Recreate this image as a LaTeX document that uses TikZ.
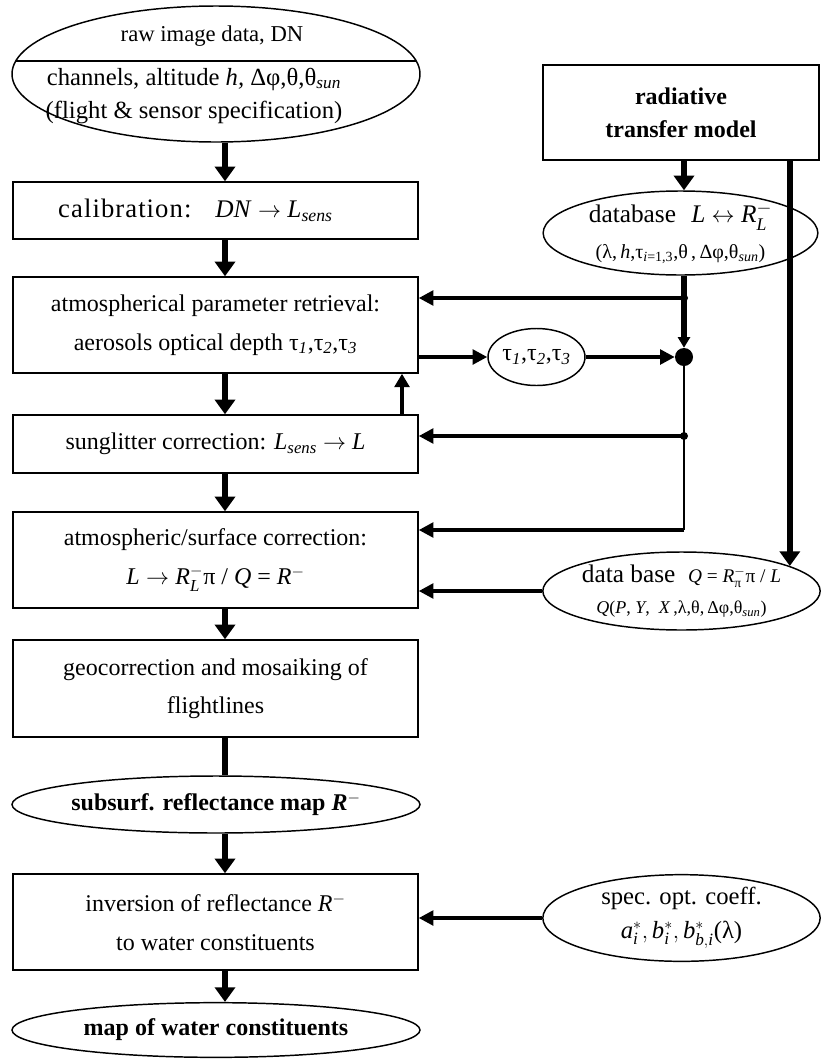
\documentclass[tikz,border=0pt]{standalone}
\usepackage{amsmath}
\usepackage{fontspec}
\setmainfont{Liberation Serif}
\usetikzlibrary{arrows.meta,calc,shapes.geometric}
\begin{document}
\begin{tikzpicture}[x=0.75pt,y=-0.75pt,
  every node/.style={font=\fontsize{18}{29}\selectfont},
  box/.style={draw,line width=1.1pt,rectangle,minimum width=303.75pt,inner sep=0pt,align=center},
  rbox/.style={draw,line width=1.1pt,rectangle,inner sep=0pt,align=center},
  oval/.style={draw,line width=1.1pt,ellipse,inner sep=-150pt,align=center},
  dot/.style={circle,fill=black,inner sep=0pt,minimum size=6pt},
  bigdot/.style={circle,fill=black,inner sep=0pt,minimum size=13.5pt},
  mainarrow/.style={line width=4.5pt,-{Triangle[length=11pt,width=15pt]}},
  mainline/.style={line width=4.5pt},
  harrow/.style={line width=2.6pt,-{Triangle[length=11pt,width=11pt]}},
  uparrow/.style={line width=2.8pt,-{Triangle[length=10pt,width=11pt]}},
  vthick/.style={line width=3.8pt},
  varrow/.style={line width=3.8pt,-{Triangle[length=8pt,width=9pt]}},
  thinline/.style={line width=1pt}
]
\useasboundingbox (0,0) rectangle (821,1061);
\coordinate (mx) at (225,0);
\coordinate (ux) at (402,0);
\coordinate (cx) at (684,0);

% left column
\node[oval,minimum width=306pt,minimum height=102pt] (raw) at (216,74) {};
\draw[line width=1pt] ($(raw.center)+(-200,-13)$) -- ($(raw.center)+(200,-13)$);
\node[font=\fontsize{17}{20}\selectfont] (rawA) at (212,36) {raw image data, DN};
\node[align=center,font=\fontsize{18.5}{25}\selectfont] (rawB) at (194,96)
  {channels, altitude \textit{h,} Δφ,θ,θ\textsubscript{\textit{sun}}\\(flight \& sensor specification)};

\node[box,minimum height=42.75pt] (calib) at (215.5,210.5)
  {\hspace*{-30pt}{\fontsize{20}{24}\selectfont\addfontfeature{LetterSpace=4}calibration:}\hspace{1em}{\fontsize{19}{24}\selectfont\textit{DN} $\rightarrow$ \textit{L}\textsubscript{\textit{sens}}}};
\node[box,minimum height=72pt] (atm) at (215.5,325)
  {atmospherical parameter retrieval:\\aerosols optical depth τ\textsubscript{\textit{1}},τ\textsubscript{\textit{2}},τ\textsubscript{\textit{3}}};
\node[box,minimum height=43.5pt] (sung) at (215.5,444)
  {sunglitter correction: \textit{L}\textsubscript{\textit{sens}} $\rightarrow$ \textit{L}};
\node[box,minimum height=72pt] (surf) at (215.5,560)
  {atmospheric/surface correction:\\$\mathit{L}\rightarrow\mathit{R}^{-}_{\mathit{L}}$π / \textit{Q} = \textit{R}$^{-}$};
\node[box,minimum height=72.75pt] (geo) at (215.5,688.5)
  {geocorrection and mosaiking of\\flightlines};
\node[oval,minimum width=306pt,minimum height=42.75pt] (subsurf) at (216,804.5)
  {\textbf{subsurf. reflectance map \textit{R}}$^{-}$};
\node[box,minimum height=72pt] (inv) at (215.5,922)
  {inversion of reflectance \textit{R}$^{-}$\\to water constituents};
\node[oval,minimum width=306pt,minimum height=41pt] (map) at (216,1030)
  {\textbf{map of water constituents}};

% right column
\node[rbox,minimum width=207pt,minimum height=71.25pt,font=\fontsize{18}{25}\selectfont\bfseries] (rtm) at (681,112.5)
  {radiative\\transfer model};
\node[oval,minimum width=206pt,minimum height=63pt,font=\fontsize{19}{27}\selectfont] (db) at (680.5,233)
  {database\hspace{0.6em}\textit{L} $\leftrightarrow$ $\mathit{R}^{-}_{\mathit{L}}$\\{\fontsize{15}{17}\selectfont(λ,\,\textit{h},τ\textsubscript{\textit{i}=1,3},θ\,,\,Δφ,θ\textsubscript{\textit{sun}})}};
\node[oval,minimum width=72.75pt,minimum height=42.75pt] (tau) at (536.5,357)
  {τ\textsubscript{\textit{1}},τ\textsubscript{\textit{2}},τ\textsubscript{\textit{3}}};
\node[oval,minimum width=208pt,minimum height=58.5pt,font=\fontsize{19}{23}\selectfont] (Q) at (681.5,591)
  {data base\ \ {\fontsize{14.5}{16}\selectfont\textit{Q} = $\mathit{R}^{-}_{\text{π}}$π / \textit{L}}\\{\fontsize{13.5}{16}\selectfont\textit{Q}(\textit{P}, \textit{Y},\ \ \textit{X}\,,λ,θ,\,Δφ,θ\textsubscript{\textit{sun}})}};
\node[oval,minimum width=208pt,minimum height=65pt,font=\fontsize{18.5}{25}\selectfont] (spec) at (681.5,918)
  {spec. opt. coeff.\\$\mathit{a}^{*}_{\mathit{i}},\mathit{b}^{*}_{\mathit{i}},\mathit{b}^{*}_{\mathit{b,i}}$(λ)};

\node[dot] (d1) at (684,298) {};
\node[bigdot] (bd) at (684,357) {};
\node[dot] (d2) at (684,436) {};
\coordinate (c1) at (684,530);

% main flow
\draw[mainarrow] (raw.south -| mx) -- (calib.north -| mx);
\draw[mainarrow] (calib.south -| mx) -- (atm.north -| mx);
\draw[mainarrow] (atm.south -| mx) -- (sung.north -| mx);
\draw[mainarrow] (sung.south -| mx) -- (surf.north -| mx);
\draw[mainarrow] (surf.south -| mx) -- (geo.north -| mx);
\draw[mainline] (geo.south -| mx) -- (subsurf.north -| mx);
\draw[mainarrow] (subsurf.south -| mx) -- (inv.north -| mx);
\draw[mainarrow] (inv.south -| mx) -- (map.north -| mx);
\draw[uparrow] (sung.north -| ux) -- (atm.south -| ux);

% right connections
\draw[mainarrow,line width=3.8pt] (rtm.south -| cx) -- (db.north -| cx);
\draw[mainarrow,line width=4.5pt] (rtm.south -| Q.13) -- (Q.13);
\draw[vthick] (db.south -| cx) -- (d1.center);
\draw[harrow] (d1.center) -- (atm.east |- d1);
\draw[varrow] (d1.center) -- (bd.north);
\draw[harrow] (atm.east |- tau) -- (tau.west);
\draw[harrow] (tau.east) -- (bd.west);
\draw[thinline] (bd.south) -- (d2.center);
\draw[harrow] (d2.center) -- (sung.east |- d2);
\draw[thinline] (d2.center) -- (c1);
\draw[harrow] (c1) -- (surf.east |- c1);
\draw[harrow] (Q.west) -- (surf.east |- Q.west);
\draw[harrow] (spec.west) -- (inv.east |- spec.west);
\end{tikzpicture}
\end{document}
